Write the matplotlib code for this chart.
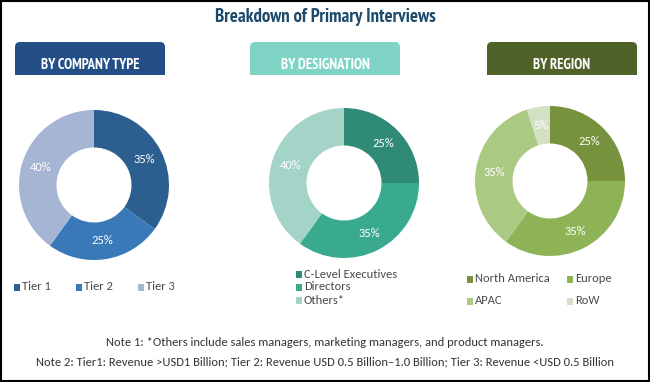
import matplotlib
matplotlib.use("Agg")
import matplotlib.pyplot as plt
from matplotlib.patches import FancyBboxPatch, Rectangle
import numpy as np

W, H = 650, 382

title = "Breakdown of Primary Interviews"
headers = ["BY COMPANY TYPE", "BY DESIGNATION", "BY REGION"]
header_colors = ["#234f86", "#80d4c6", "#4f6228"]

company_labels = ["Tier 1", "Tier 2", "Tier 3"]
company_values = [35, 25, 40]
company_colors = ["#2c5e8f", "#3a79b8", "#a6b5d4"]

designation_labels = ["C-Level Executives", "Directors", "Others*"]
designation_values = [25, 35, 40]
designation_colors = ["#2f8a76", "#3aaa8f", "#a4d4c8"]

region_labels = ["North America", "Europe", "APAC", "RoW"]
region_values = [25, 35, 35, 5]
region_colors = ["#76923c", "#8db356", "#aac983", "#d4e0c4"]

notes = ["Note 1: *Others include sales managers, marketing managers, and product managers.",
         "Note 2: Tier1: Revenue >USD1 Billion; Tier 2: Revenue USD 0.5 Billion\u20131.0 Billion; Tier 3: Revenue <USD 0.5 Billion"]

fig = plt.figure(figsize=(W / 100, H / 100), dpi=100)
bg = fig.add_axes([0, 0, 1, 1])
bg.set_xlim(0, W)
bg.set_ylim(H, 0)
bg.axis("off")

narrow = ["PT Sans Narrow", "DejaVu Sans"]
body = ["Carlito", "DejaVu Sans"]
txtcol = "#4a4a4a"

bg.text(325, 17, title, ha="center", va="center", fontsize=13.5, fontweight="bold",
        color="#1b4a6b", family=narrow)

boxes = [(15, 165), (250, 400), (487, 637)]
for (x0, x1), lab, col in zip(boxes, headers, header_colors):
    bg.add_patch(FancyBboxPatch((x0 + 4, 46), x1 - x0 - 8, 40,
                                boxstyle="round,pad=4,rounding_size=5",
                                fc=col, ec="none", zorder=1))
    bg.add_patch(Rectangle((x0 - 6, 75), x1 - x0 + 12, 20, fc="white", ec="none", zorder=2))
    bg.text((x0 + x1) / 2, 65, lab, ha="center", va="center", fontsize=10.5,
            fontweight="bold", color="white", family=narrow, zorder=3)


def donut(cx, cy, values, colors, r=75):
    ax = fig.add_axes([(cx - r) / W, (H - cy - r) / H, 2 * r / W, 2 * r / H])
    ax.pie(values, colors=colors, startangle=90, counterclock=False,
           wedgeprops=dict(width=0.5, edgecolor="none"))
    ax.set_xlim(-1, 1)
    ax.set_ylim(-1, 1)
    ax.set_aspect("equal")
    ax.axis("off")
    start = 90.0
    tot = float(sum(values))
    for v in values:
        ang = np.deg2rad(start - v / tot * 180.0)
        ax.text(0.75 * np.cos(ang), 0.75 * np.sin(ang), f"{v}%", ha="center",
                va="center", fontsize=9, color="white", family=body)
        start -= v / tot * 360.0
    return ax


donut(94, 185, company_values, company_colors)
donut(344, 183, designation_values, designation_colors)
donut(550, 181, region_values, region_colors)


def legend_item(x, y, label, color):
    bg.add_patch(Rectangle((x, y - 3.5), 6, 7, fc=color, ec="none"))
    bg.text(x + 8, y, label, ha="left", va="center", fontsize=9, color=txtcol, family=body)


for x, lab, col in zip([14, 76, 138], company_labels, company_colors):
    legend_item(x, 287, lab, col)

for y, lab, col in zip([274, 287, 300], designation_labels, designation_colors):
    legend_item(296, y, lab, col)

for (x, y), lab, col in zip([(467, 279), (567, 279), (467, 301), (567, 301)],
                            region_labels, region_colors):
    legend_item(x, y, lab, col)

bg.text(325, 342, notes[0], ha="center", va="center", fontsize=9, color="#333333", family=body)
bg.text(325, 362, notes[1], ha="center", va="center", fontsize=9, color="#333333", family=body)

bg.add_patch(Rectangle((1, 1), W - 2.5, H - 2.5, fill=False, ec="black", lw=1.5, zorder=10))

fig.savefig("out.png", dpi=100)
